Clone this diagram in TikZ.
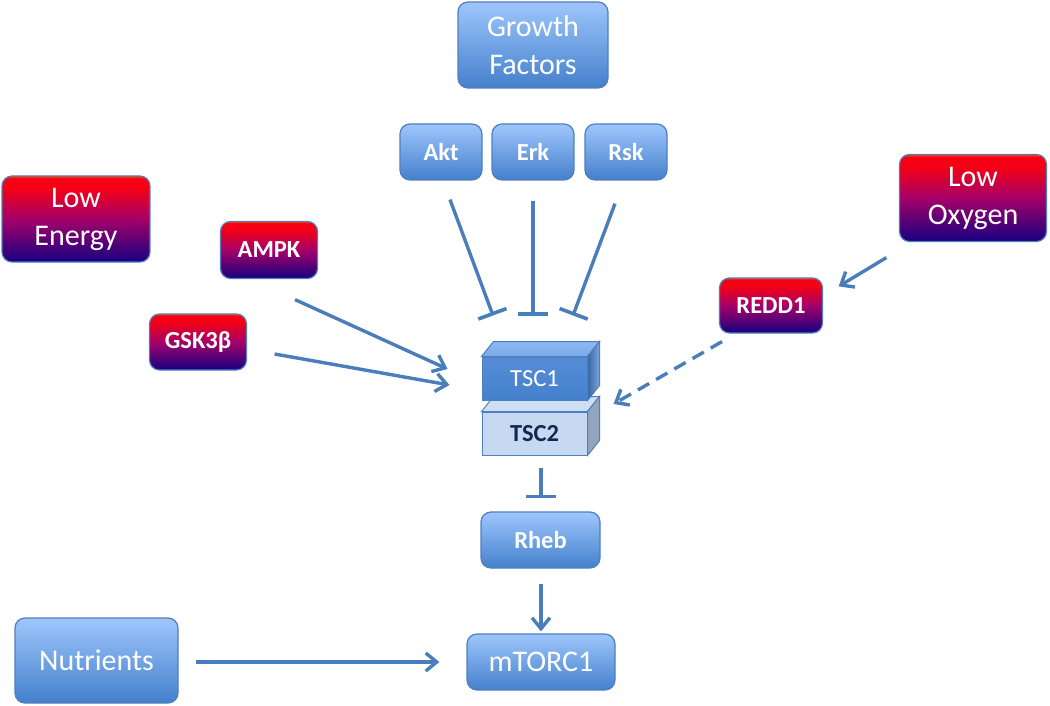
\documentclass[tikz,border=0pt]{standalone}
\usepackage{fontspec}
\setmainfont{Carlito}
\usetikzlibrary{arrows.meta}
\definecolor{boxline}{RGB}{80,126,190}
\definecolor{bluetop}{RGB}{158,198,252}
\definecolor{bluebot}{RGB}{68,128,204}
\definecolor{redtop}{RGB}{255,70,0}
\definecolor{redred}{RGB}{245,0,20}
\definecolor{redmid}{RGB}{165,0,105}
\definecolor{redbot}{RGB}{22,0,128}
\definecolor{tsclight}{RGB}{198,217,241}
\definecolor{tscnavy}{RGB}{20,40,80}
\definecolor{arrowblue}{RGB}{74,126,187}
\pgfdeclareverticalshading{redblue}{100bp}{color(0bp)=(redbot); color(25bp)=(redbot); color(50bp)=(redmid); color(68bp)=(redred); color(73.5bp)=(redred); color(75bp)=(redtop); color(100bp)=(redtop)}

\begin{document}
\begin{tikzpicture}[x=1pt,y=-1pt,
  box/.style={rounded corners=10pt, draw=boxline, line width=1.2pt, align=center,
    text=white, inner sep=0pt},
  bluebox/.style={box, top color=bluetop, bottom color=bluebot},
  redbox/.style={box, shading=redblue},
  big/.style={font=\fontsize{30}{38}\selectfont},
  small/.style={font=\fontsize{24.5}{28}\selectfont\bfseries},
  face/.style={draw=boxline, line width=1pt, inner sep=0pt, minimum width=105pt, minimum height=43pt},
  act/.style={draw=arrowblue, line width=3.4pt, -{Straight Barb[length=11pt,width=18pt]}},
  inhib/.style={draw=arrowblue, line width=3.4pt, -{Bar[width=30pt,line width=3.6pt]}}]
\useasboundingbox (0,0) rectangle (1050,706);

\node[bluebox, big, minimum width=150pt, minimum height=86pt] (GF) at (533,45) {Growth\\Factors};
\node[bluebox, small, minimum width=82pt, minimum height=56pt] (Akt) at (441,152) {Akt};
\node[bluebox, small, minimum width=82pt, minimum height=56pt] (Erk) at (533,152) {Erk};
\node[bluebox, small, minimum width=82pt, minimum height=56pt] (Rsk) at (626,152) {Rsk};

\node[redbox, big, minimum width=148pt, minimum height=86pt] (LE) at (76,219) {Low\\Energy};
\node[redbox, small, minimum width=97pt, minimum height=57pt] (AMPK) at (269,250) {AMPK};
\node[redbox, small, minimum width=97pt, minimum height=56pt] (GSK) at (198,342) {GSK3β};
\node[redbox, big, minimum width=147pt, minimum height=87pt] (LO) at (973,198) {Low\\Oxygen};
\node[redbox, small, minimum width=103pt, minimum height=55pt] (REDD) at (771,305.5) {REDD1};

% TSC2 (drawn first, behind TSC1)
\node[face, fill=tsclight, text=tscnavy, font=\fontsize{24.5}{28}\selectfont\bfseries] (TSC2) at (534.5,433.5) {TSC2};
\filldraw[draw=boxline, line width=1pt, fill=tsclight!85!white] (TSC2.north west) -- ++(12,-15) -- ([shift={(12,-15)}]TSC2.north east) -- (TSC2.north east) -- cycle;
\filldraw[draw=boxline, line width=1pt, fill=boxline!55!gray!70] (TSC2.north east) -- ++(12,-15) -- ([shift={(12,-15)}]TSC2.south east) -- (TSC2.south east) -- cycle;

% TSC1
\node[face, top color=bluebot!80!bluetop, bottom color=bluebot, text=white, font=\fontsize{24.5}{28}\selectfont] (TSC1) at (534.5,378.5) {TSC1};
\filldraw[draw=boxline, line width=1pt, top color=bluetop!80!bluebot, bottom color=bluetop!60!bluebot] (TSC1.north west) -- ++(12,-15) -- ([shift={(12,-15)}]TSC1.north east) -- (TSC1.north east) -- cycle;
\filldraw[draw=boxline, line width=1pt, left color=bluebot!80!black, right color=bluebot!70!white] (TSC1.north east) -- ++(12,-15) -- ([shift={(12,-15)}]TSC1.south east) -- (TSC1.south east) -- cycle;

\node[bluebox, small, minimum width=119pt, minimum height=56pt] (Rheb) at (540.5,540) {Rheb};
\node[bluebox, big, minimum width=148pt, minimum height=56pt] (mTOR) at (541,662) {mTORC1};
\node[bluebox, big, minimum width=163pt, minimum height=85pt] (Nut) at (96.5,660.5) {Nutrients};

% connectors
\draw[inhib] ([shift={(9,19)}]Akt.south) -- ([shift={(-41.5,-41)}]TSC1.north);
\draw[inhib] ([shift={(0,20)}]Erk.south) -- ([shift={(-1.5,-41)}]TSC1.north);
\draw[inhib] ([shift={(-11,23)}]Rsk.south) -- ([shift={(38.5,-41)}]TSC1.north);
\draw[act] ([shift={(26,20.5)}]AMPK.south) -- ([shift={(-34,-9.5)}]TSC1.west);
\draw[act] ([shift={(27.5,12)}]GSK.east) -- ([shift={(-32,6.5)}]TSC1.west);
\draw[act] ([shift={(-12.5,15.5)}]LO.south west) -- ([shift={(15.5,9)}]REDD.north east);
\draw[act, dash pattern=on 13pt off 8pt] ([shift={(-49,8)}]REDD.south) -- ([shift={(26,-29.5)}]TSC2.east);
\draw[inhib] ([shift={(6.5,12)}]TSC2.south) -- ([shift={(0.5,-13)}]Rheb.north);
\draw[act] ([shift={(0.5,15)}]Rheb.south) -- ([shift={(0,-2)}]mTOR.north);
\draw[act] ([shift={(17,1.5)}]Nut.east) -- ([shift={(-27,0)}]mTOR.west);
\end{tikzpicture}
\end{document}
